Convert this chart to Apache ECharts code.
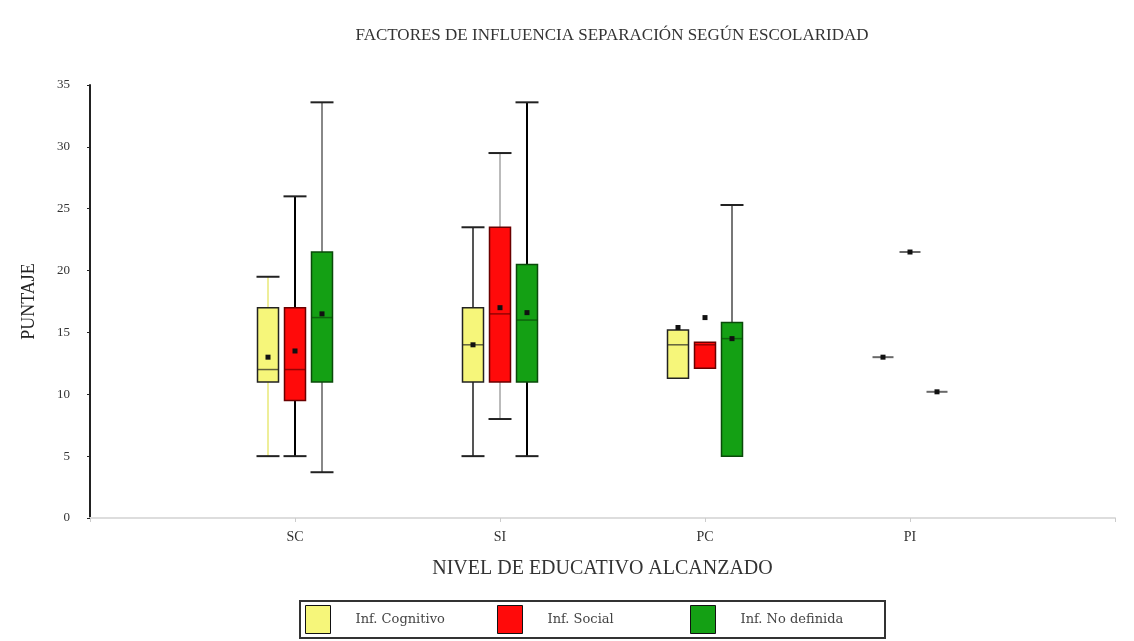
<!DOCTYPE html>
<html>
<head>
<meta charset="utf-8">
<script src="https://cdn.jsdelivr.net/npm/echarts@6/dist/echarts.min.js"></script>
<style>
  html, body { margin: 0; padding: 0; background: #fff; }
  #chart { width: 1134px; height: 641px; }
</style>
</head>
<body>
<div id="chart"></div>
<script>
// niveles educativos (posiciones 1..4 del eje)
var categories = ['SC', 'SI', 'PC', 'PI'];
var seriesNames = ['Inf. Cognitivo', 'Inf. Social', 'Inf. No definida'];

// Inf. Cognitivo
var cogMin    = [5,    5,    null, 13];
var cogQ1     = [11,   11,   11.3, 13];
var cogMedian = [12,   14,   14,   13];
var cogQ3     = [17,   17,   15.2, 13];
var cogMax    = [19.5, 23.5, null, 13];
var cogMean   = [13,   14,   15.4, 13];

// Inf. Social
var socMin    = [5,    8,    null, 21.5];
var socQ1     = [9.5,  11,   12.1, 21.5];
var socMedian = [12,   16.5, 14,   21.5];
var socQ3     = [17,   23.5, 14.2, 21.5];
var socMax    = [26,   29.5, null, 21.5];
var socMean   = [13.5, 17,   16.2, 21.5];

// Inf. No definida
var ndMin     = [3.7,  5,    null, 10.2];
var ndQ1      = [11,   11,   5,    10.2];
var ndMedian  = [16.2, 16,   14.5, 10.2];
var ndQ3      = [21.5, 20.5, 15.8, 10.2];
var ndMax     = [33.6, 33.6, 25.3, 10.2];
var ndMean    = [16.5, 16.6, 14.5, 10.2];

var yTicks = [0, 5, 10, 15, 20, 25, 30, 35];

// estilos
var fills = ['#f6f67a', '#ff0a0a', '#14a014'];
var borders = ['#222', '#6a0000', '#0a4a0a'];
var whiskerColors = [
	['#eeee99', '#555', '#555', '#000'],
	['#000', '#bbb', '#000', '#000'],
	['#888', '#000', '#777', '#000']
];
var offsetPx = [-27, 0, 27];
var boxW = 21;
var legendLeft = [305, 497, 690];

function buildData(mn, q1, md, q3, mx, mean) {
	return categories.map(function (c, i) {
		return [i + 1, mn[i], q1[i], md[i], q3[i], mx[i], mean[i]];
	});
}

var allData = [
	buildData(cogMin, cogQ1, cogMedian, cogQ3, cogMax, cogMean),
	buildData(socMin, socQ1, socMedian, socQ3, socMax, socMean),
	buildData(ndMin, ndQ1, ndMedian, ndQ3, ndMax, ndMean)
];

function ok(v) { return v !== null && v !== undefined && isFinite(v); }

function makeRender(si) {
	return function (params, api) {
		var idx = params.dataIndex;
		var row = allData[si][idx];
		var cx = api.coord([row[0], 0])[0] + offsetPx[si];
		var y = function (v) { return api.coord([0, v])[1]; };
		var half = boxW / 2;
		var wc = whiskerColors[si][idx];
		var kids = [];
		var mn = row[1], q1 = row[2], md = row[3], q3 = row[4], mx = row[5], mean = row[6];

		if (ok(mn) && ok(q1) && mn !== q1) {
			kids.push({ type: 'line', shape: { x1: cx, y1: y(mn), x2: cx, y2: y(q1) }, style: { stroke: wc, lineWidth: 2 } });
			kids.push({ type: 'line', shape: { x1: cx - half - 1, y1: y(mn), x2: cx + half + 1, y2: y(mn) }, style: { stroke: '#222', lineWidth: 2 } });
		}
		if (ok(mx) && ok(q3) && mx !== q3) {
			kids.push({ type: 'line', shape: { x1: cx, y1: y(q3), x2: cx, y2: y(mx) }, style: { stroke: wc, lineWidth: 2 } });
			kids.push({ type: 'line', shape: { x1: cx - half - 1, y1: y(mx), x2: cx + half + 1, y2: y(mx) }, style: { stroke: '#222', lineWidth: 2 } });
		}
		if (ok(q1) && ok(q3) && q3 !== q1) {
			kids.push({ type: 'rect', shape: { x: cx - half, y: y(q3), width: boxW, height: y(q1) - y(q3) },
				style: { fill: fills[si], stroke: borders[si], lineWidth: 1.5 } });
		}
		if (ok(md)) {
			var single = q1 === q3;
			kids.push({ type: 'line', shape: { x1: cx - half, y1: y(md), x2: cx + half, y2: y(md) },
				style: { stroke: single ? '#444' : borders[si], lineWidth: single ? 2 : 1.5, opacity: single ? 0.8 : 0.7 } });
		}
		if (ok(mean)) {
			kids.push({ type: 'rect', shape: { x: cx - 2.5, y: y(mean) - 2.5, width: 5, height: 5 }, style: { fill: '#111' } });
		}
		return { type: 'group', children: kids };
	};
}

var chart = echarts.init(document.getElementById('chart'));

var serif = 'Liberation Serif';

// una leyenda por serie, para fijar la posicion de cada una
var legends = seriesNames.map(function (n, i) {
	return {
		top: 605,
		left: legendLeft[i],
		padding: 0,
		itemWidth: 25,
		itemHeight: 28,
		textStyle: { fontFamily: 'DejaVu Serif', fontSize: 13, color: '#444', padding: [0, 0, 0, 20] },
		data: [{ name: n, icon: 'rect', itemStyle: { color: fills[i], borderColor: '#111', borderWidth: 1 } }]
	};
});

var option = {
	animation: false,
	title: {
		text: 'FACTORES DE INFLUENCIA SEPARACIÓN SEGÚN ESCOLARIDAD',
		left: 607,
		textAlign: 'center',
		top: 22,
		textStyle: { fontFamily: serif, fontSize: 17, fontWeight: 'normal', color: '#333' }
	},
	grid: { left: 90, right: 19, top: 85, bottom: 123 },
	legend: legends,
	graphic: [{
		type: 'rect',
		shape: { x: 300, y: 601, width: 585, height: 37 },
		style: { fill: 'none', stroke: '#333', lineWidth: 2 },
		silent: true
	}],
	xAxis: {
		type: 'value',
		min: 0,
		max: 5,
		interval: 1,
		name: 'NIVEL DE EDUCATIVO ALCANZADO',
		nameLocation: 'middle',
		nameGap: 41,
		nameTextStyle: { fontFamily: serif, fontSize: 20, color: '#333' },
		axisLine: { lineStyle: { color: '#ddd', width: 2 } },
		axisTick: { show: true, length: 4, lineStyle: { color: '#ccc' } },
		splitLine: { show: false },
		axisLabel: {
			fontFamily: serif, fontSize: 14, color: '#333', margin: 12,
			formatter: function (v) { return categories[v - 1] || ''; }
		}
	},
	yAxis: {
		type: 'value',
		min: yTicks[0],
		max: yTicks[yTicks.length - 1],
		interval: 5,
		name: 'PUNTAJE',
		nameLocation: 'middle',
		nameGap: 52,
		nameTextStyle: { fontFamily: serif, fontSize: 18, color: '#222' },
		axisLine: { show: true, lineStyle: { color: '#222', width: 2 } },
		axisTick: { show: true, length: 3, lineStyle: { color: '#222' } },
		splitLine: { show: false },
		axisLabel: { fontFamily: serif, fontSize: 13, color: '#333', margin: 20 }
	},
	series: seriesNames.map(function (n, i) {
		return {
			name: n,
			type: 'custom',
			itemStyle: { color: fills[i] },
			renderItem: makeRender(i),
			encode: { x: 0, y: [1, 2, 3, 4, 5, 6] },
			data: allData[i]
		};
	})
};

chart.setOption(option);
</script>
</body>
</html>
